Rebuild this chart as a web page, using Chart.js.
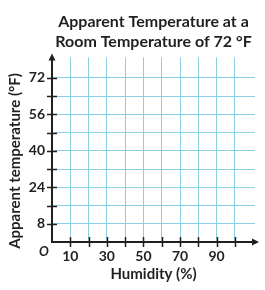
<!DOCTYPE html>
<html>
<head>
<meta charset="utf-8">
<script src="https://cdn.jsdelivr.net/npm/chart.js@4.4.0/dist/chart.umd.min.js"></script>
<style>
  html, body { margin: 0; padding: 0; background: #fff; }
  #wrap { width: 265px; height: 290px; }
</style>
</head>
<body>
<div id="wrap"><canvas id="tempChart"></canvas></div>
<script>
// Axis values (the graph is a blank grid, nothing plotted yet)
const xGrid = [10, 20, 30, 40, 50, 60, 70, 80, 90, 100];
const xLabels = [10, 30, 50, 70, 90];
const yGrid = [8, 16, 24, 32, 40, 48, 56, 64, 72];
const yLabels = [8, 24, 40, 56, 72];
const xRange = [0, 111];
const yRange = [0, 81];
const titleLines = ['Apparent Temperature at a', 'Room Temperature of 72 °F'];
const xTitle = 'Humidity (%)';
const yTitle = 'Apparent temperature (°F)';
const points = [];

const ink = '#231f20';
const gridBlue = '#8ad0e2';
const family = 'Lato, "Liberation Sans", sans-serif';

// axes with arrow heads, crossing tick marks, the "O" and the y title
const axesPlugin = {
  id: 'axesPlugin',
  afterDraw(chart) {
    const ctx = chart.ctx;
    const xs = chart.scales.x, ys = chart.scales.y;
    const x0 = xs.getPixelForValue(0), y0 = ys.getPixelForValue(0);
    const xTip = xs.right + 4, yTip = ys.top - 4;

    ctx.save();
    ctx.strokeStyle = ink;
    ctx.fillStyle = ink;

    // tick marks
    ctx.lineWidth = 1.5;
    ctx.beginPath();
    xGrid.forEach(v => {
      const px = Math.round(xs.getPixelForValue(v)) + 0.5;
      ctx.moveTo(px, y0 - 5);
      ctx.lineTo(px, y0 + 5);
    });
    yGrid.forEach(v => {
      const py = Math.round(ys.getPixelForValue(v)) + 0.5;
      ctx.moveTo(x0 - 5, py);
      ctx.lineTo(x0 + 5, py);
    });
    ctx.stroke();

    // axis lines
    ctx.lineWidth = 2;
    ctx.beginPath();
    ctx.moveTo(x0 - 1, y0);
    ctx.lineTo(xTip - 4, y0);
    ctx.moveTo(x0, y0 + 1);
    ctx.lineTo(x0, yTip + 4);
    ctx.stroke();

    // arrow heads
    ctx.beginPath();
    ctx.moveTo(xTip, y0);
    ctx.lineTo(xTip - 7, y0 - 3.5);
    ctx.lineTo(xTip - 7, y0 + 3.5);
    ctx.closePath();
    ctx.moveTo(x0, yTip);
    ctx.lineTo(x0 - 3.5, yTip + 7);
    ctx.lineTo(x0 + 3.5, yTip + 7);
    ctx.closePath();
    ctx.fill();

    // origin
    ctx.font = 'italic bold 13px ' + family;
    ctx.textAlign = 'center';
    ctx.textBaseline = 'middle';
    ctx.fillText('O', x0 - 8, y0 + 10);

    // y axis title
    ctx.font = 'bold 15px ' + family;
    ctx.translate(15, 161);
    ctx.rotate(-Math.PI / 2);
    ctx.fillText(yTitle, 0, 0);
    ctx.restore();
  }
};

new Chart(document.getElementById('tempChart'), {
  type: 'scatter',
  data: { datasets: [{ data: points }] },
  options: {
    responsive: true,
    maintainAspectRatio: false,
    animation: false,
    layout: { padding: { left: 0, right: 10, top: 0, bottom: 0 } },
    plugins: {
      legend: { display: false },
      tooltip: { enabled: false },
      title: {
        display: true,
        text: titleLines,
        fullSize: false,
        color: ink,
        font: { family: family, size: 16, weight: 'bold', lineHeight: '20.7px' },
        padding: { top: 11, bottom: 5 }
      }
    },
    scales: {
      x: {
        type: 'linear',
        min: xRange[0],
        max: xRange[1],
        afterBuildTicks: s => { s.ticks = xGrid.map(v => ({ value: v })); },
        afterFit: s => { s.height = 48; },
        grid: { color: gridBlue, lineWidth: 1, drawTicks: false },
        border: { display: false },
        ticks: {
          padding: 6,
          color: ink,
          autoSkip: false,
          maxRotation: 0,
          font: { family: family, size: 14, weight: 'bold' },
          callback: v => xLabels.includes(v) ? String(v) : ''
        },
        title: {
          display: true,
          text: xTitle,
          color: ink,
          font: { family: family, size: 15, weight: 'bold' },
          padding: { top: 7, bottom: 7 }
        }
      },
      y: {
        type: 'linear',
        min: yRange[0],
        max: yRange[1],
        afterBuildTicks: s => { s.ticks = yGrid.map(v => ({ value: v })); },
        afterFit: s => { s.width = 52; },
        grid: { color: gridBlue, lineWidth: 1, drawTicks: false },
        border: { display: false },
        ticks: {
          padding: 7,
          color: ink,
          autoSkip: false,
          font: { family: family, size: 14, weight: 'bold' },
          callback: v => yLabels.includes(v) ? String(v) : ''
        }
      }
    }
  },
  plugins: [axesPlugin]
});
</script>
</body>
</html>
